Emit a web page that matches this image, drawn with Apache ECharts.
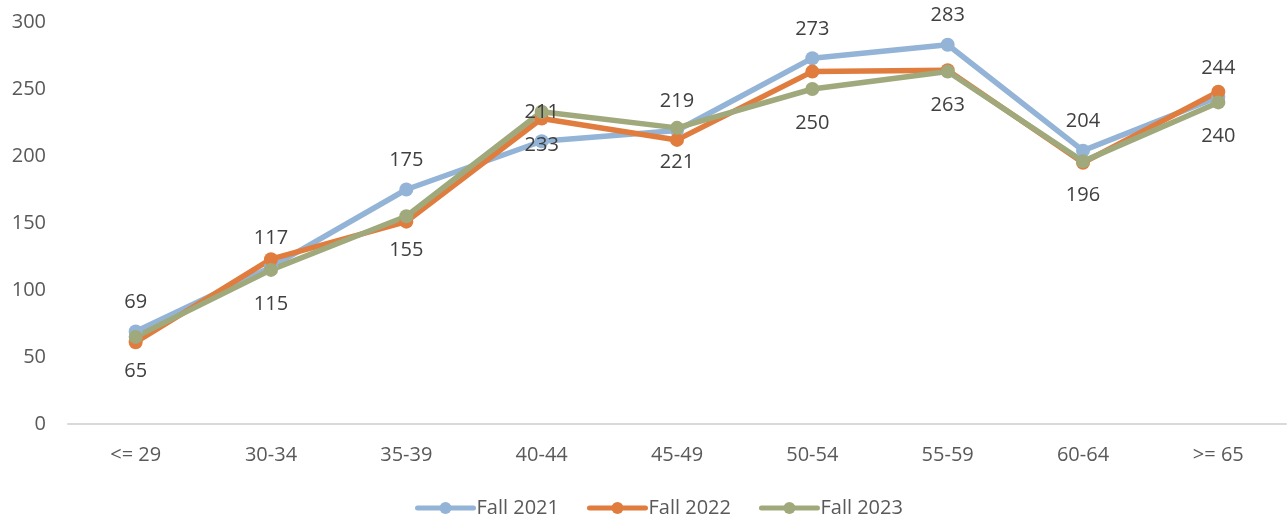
<!DOCTYPE html>
<html>
<head>
<meta charset="utf-8">
<script src="https://cdn.jsdelivr.net/npm/echarts@6/dist/echarts.min.js"></script>
<style>
  html, body { margin: 0; padding: 0; background: #fff; }
  #main { width: 1287px; height: 521px; }
</style>
</head>
<body>
<div id="main"></div>
<script>
const categories = ['<= 29', '30-34', '35-39', '40-44', '45-49', '50-54', '55-59', '60-64', '>= 65'];
const fall2021 = [69, 117, 175, 211, 219, 273, 283, 204, 244];
const fall2022 = [61, 123, 151, 228, 212, 263, 264, 195, 248];
const fall2023 = [65, 115, 155, 233, 221, 250, 263, 196, 240];
const yTicks = { min: 0, max: 300, interval: 50 };

const colors = ['#93B4D6', '#E07D3E', '#9FA97C'];
const labelFont = { fontFamily: 'Open Sans', fontSize: 20, color: '#404040' };

const mkSeries = (name, data, color, labelPos) => ({
  name: name,
  type: 'line',
  data: data,
  symbol: 'circle',
  symbolSize: 14,
  lineStyle: { width: 5.5, color: color, cap: 'round', join: 'round' },
  itemStyle: { color: color },
  label: labelPos
    ? Object.assign({ show: true, position: labelPos, distance: labelPos === 'top' ? 12 : 17 }, labelFont)
    : { show: false }
});

const chart = echarts.init(document.getElementById('main'));
chart.setOption({
  animation: false,
  grid: { left: 68, right: 1, top: 22, bottom: 97 },
  legend: {
    bottom: -2,
    left: 410,
    itemWidth: 56,
    itemHeight: 15,
    itemGap: 28,
    lineStyle: { width: 5, cap: 'round' },
    textStyle: { fontFamily: 'Open Sans', fontSize: 20, color: '#595959', padding: [0, 0, 0, -2] },
    data: ['Fall 2021', 'Fall 2022', 'Fall 2023']
  },
  xAxis: {
    type: 'category',
    data: categories,
    boundaryGap: true,
    axisLine: { lineStyle: { color: '#d9d9d9', width: 2 } },
    axisTick: { show: false },
    axisLabel: { fontFamily: 'Open Sans', fontSize: 20, color: '#595959', margin: 21 }
  },
  yAxis: {
    type: 'value',
    min: yTicks.min,
    max: yTicks.max,
    interval: yTicks.interval,
    splitLine: { show: false },
    axisLine: { show: false },
    axisTick: { show: false },
    axisLabel: { fontFamily: 'Open Sans', fontSize: 20, color: '#595959', margin: 22 }
  },
  series: [
    mkSeries('Fall 2021', fall2021, colors[0], 'top'),
    mkSeries('Fall 2022', fall2022, colors[1], null),
    mkSeries('Fall 2023', fall2023, colors[2], 'bottom')
  ]
});
</script>
</body>
</html>
